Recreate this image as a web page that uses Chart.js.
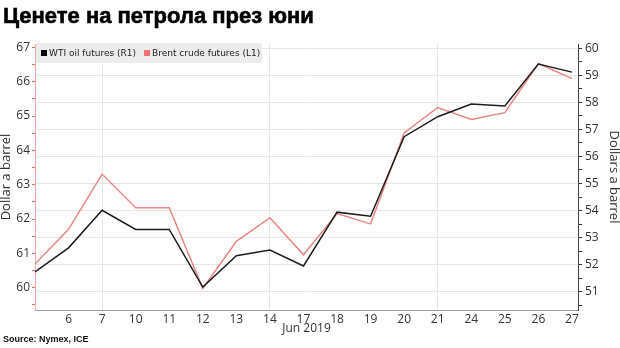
<!DOCTYPE html>
<html>
<head>
<meta charset="utf-8">
<script src="https://cdn.jsdelivr.net/npm/chart.js@4.4.1/dist/chart.umd.min.js"></script>
<style>
  html, body { margin: 0; padding: 0; background: #fff; }
  #wrap { position: relative; width: 620px; height: 348px; }
  #title {
    position: absolute; left: 3px; top: 3px;
    font: bold 22px "Liberation Sans", Arial, sans-serif; color: #000;
    -webkit-text-stroke: 0.6px #000;
  }
  #source {
    position: absolute; left: 3px; top: 334px;
    font: bold 9px "Liberation Sans", Arial, sans-serif; color: #111;
  }
</style>
</head>
<body>
<div id="wrap">
  <canvas id="oil-chart" width="620" height="348"></canvas>
  <div id="title">Ценете на петрола през юни</div>
  <div id="source">Source: Nymex, ICE</div>
</div>
<script>
// June 2019 trading days
const days = ['5', '6', '7', '10', '11', '12', '13', '14', '17', '18', '19', '20', '21', '24', '25', '26', '27']
const wti = [51.73, 52.62, 54.01, 53.30, 53.30, 51.17, 52.33, 52.54, 51.95, 53.94, 53.79, 56.73, 57.47, 57.94, 57.87, 59.42, 59.12]
const brent = [60.69, 61.70, 63.31, 62.33, 62.33, 59.98, 61.35, 62.04, 60.96, 62.16, 61.86, 64.51, 65.25, 64.90, 65.10, 66.53, 66.09]
const weekGrid = [2, 7, 12] // Fridays get a vertical line

const toPoints = (values) => values.map((v, i) => ({ x: i, y: v }))

const tickFont = { family: '"Open Sans", sans-serif', size: 12 }
const titleFont = { family: '"Open Sans", sans-serif', size: 13, lineHeight: 1 }

// grey legend strip drawn inside the plot, top left
const legendBox = {
  id: 'legendBox',
  afterDatasetsDraw(chart) {
    const { ctx, chartArea } = chart
    const x0 = chartArea.left + 1
    const y0 = chartArea.top - 1
    ctx.save()
    ctx.fillStyle = '#ececec'
    ctx.fillRect(x0, y0, 226, 20)
    ctx.font = '9px "DejaVu Sans"'
    ctx.textBaseline = 'middle'
    let x = x0 + 5
    chart.data.datasets.forEach((ds) => {
      ctx.fillStyle = ds.legendColor
      ctx.fillRect(x, y0 + 7, 6, 6)
      x += 8
      ctx.fillStyle = '#222'
      ctx.fillText(ds.label, x, y0 + 10.5)
      x += ctx.measureText(ds.label).width + 8
    })
    ctx.restore()
  },
}

const isWhole = (v) => Math.abs(v - Math.round(v)) < 1e-6

new Chart(document.getElementById('oil-chart'), {
  type: 'line',
  data: {
    datasets: [
      {
        label: 'WTI oil futures (R1)',
        data: toPoints(wti),
        yAxisID: 'yRight',
        borderColor: '#1c1c1c',
        legendColor: '#000000',
        borderWidth: 1.5,
        pointRadius: 0,
        tension: 0,
      },
      {
        label: 'Brent crude futures (L1)',
        data: toPoints(brent),
        yAxisID: 'yLeft',
        borderColor: '#ea8585',
        legendColor: '#f07272',
        borderWidth: 1.5,
        pointRadius: 0,
        tension: 0,
      },
    ],
  },
  options: {
    responsive: false,
    animation: false,
    layout: { padding: { top: 44, left: 0, right: 0, bottom: 13 } },
    plugins: {
      legend: { display: false },
      tooltip: { enabled: false },
    },
    scales: {
      x: {
        type: 'linear',
        min: 0,
        max: 16.18,
        afterFit: (scale) => { scale.height = 25 },
        border: { color: '#a0a0a0', width: 1 },
        grid: {
          drawTicks: false,
          color: (ctx) => (weekGrid.includes(ctx.tick && ctx.tick.value) ? '#e6e6e6' : 'rgba(0,0,0,0)'),
        },
        ticks: {
          stepSize: 1,
          includeBounds: false,
          autoSkip: false,
          maxRotation: 0,
          padding: 2,
          color: '#333',
          font: tickFont,
          callback: (v) => (v === 0 ? '' : days[v]),
        },
        title: {
          display: true,
          text: 'Jun 2019',
          color: '#333',
          font: { family: '"Open Sans", sans-serif', size: 12, lineHeight: 1.1 },
          padding: 0,
        },
      },
      yLeft: {
        position: 'left',
        min: 59.35,
        max: 67.1,
        afterFit: (scale) => { scale.width = 35 },
        border: { color: '#f3a9a9', width: 1 },
        grid: {
          drawOnChartArea: false,
          tickLength: 3,
          tickColor: '#e36a6a',
        },
        ticks: {
          stepSize: 0.5,
          includeBounds: false,
          autoSkip: false,
          padding: 2,
          color: '#333',
          font: tickFont,
          callback: (v) => (isWhole(v) ? String(Math.round(v)) : ''),
        },
        title: {
          display: true,
          text: 'Dollar a barrel',
          color: '#333',
          font: titleFont,
          padding: 0,
        },
      },
      yRight: {
        position: 'right',
        min: 50.32,
        max: 60.16,
        afterFit: (scale) => { scale.width = 42 },
        border: { color: '#444', width: 1 },
        grid: {
          tickLength: 4,
          tickColor: '#333',
          color: (ctx) => (ctx.tick && isWhole(ctx.tick.value) ? '#e6e6e6' : 'rgba(0,0,0,0)'),
        },
        ticks: {
          stepSize: 0.5,
          includeBounds: false,
          autoSkip: false,
          padding: 3,
          color: '#333',
          font: tickFont,
          callback: (v) => (isWhole(v) ? String(Math.round(v)) : ''),
        },
        title: {
          display: true,
          text: 'Dollars a barrel',
          color: '#333',
          font: titleFont,
          padding: 0,
        },
      },
    },
  },
  plugins: [legendBox],
})
</script>
</body>
</html>
